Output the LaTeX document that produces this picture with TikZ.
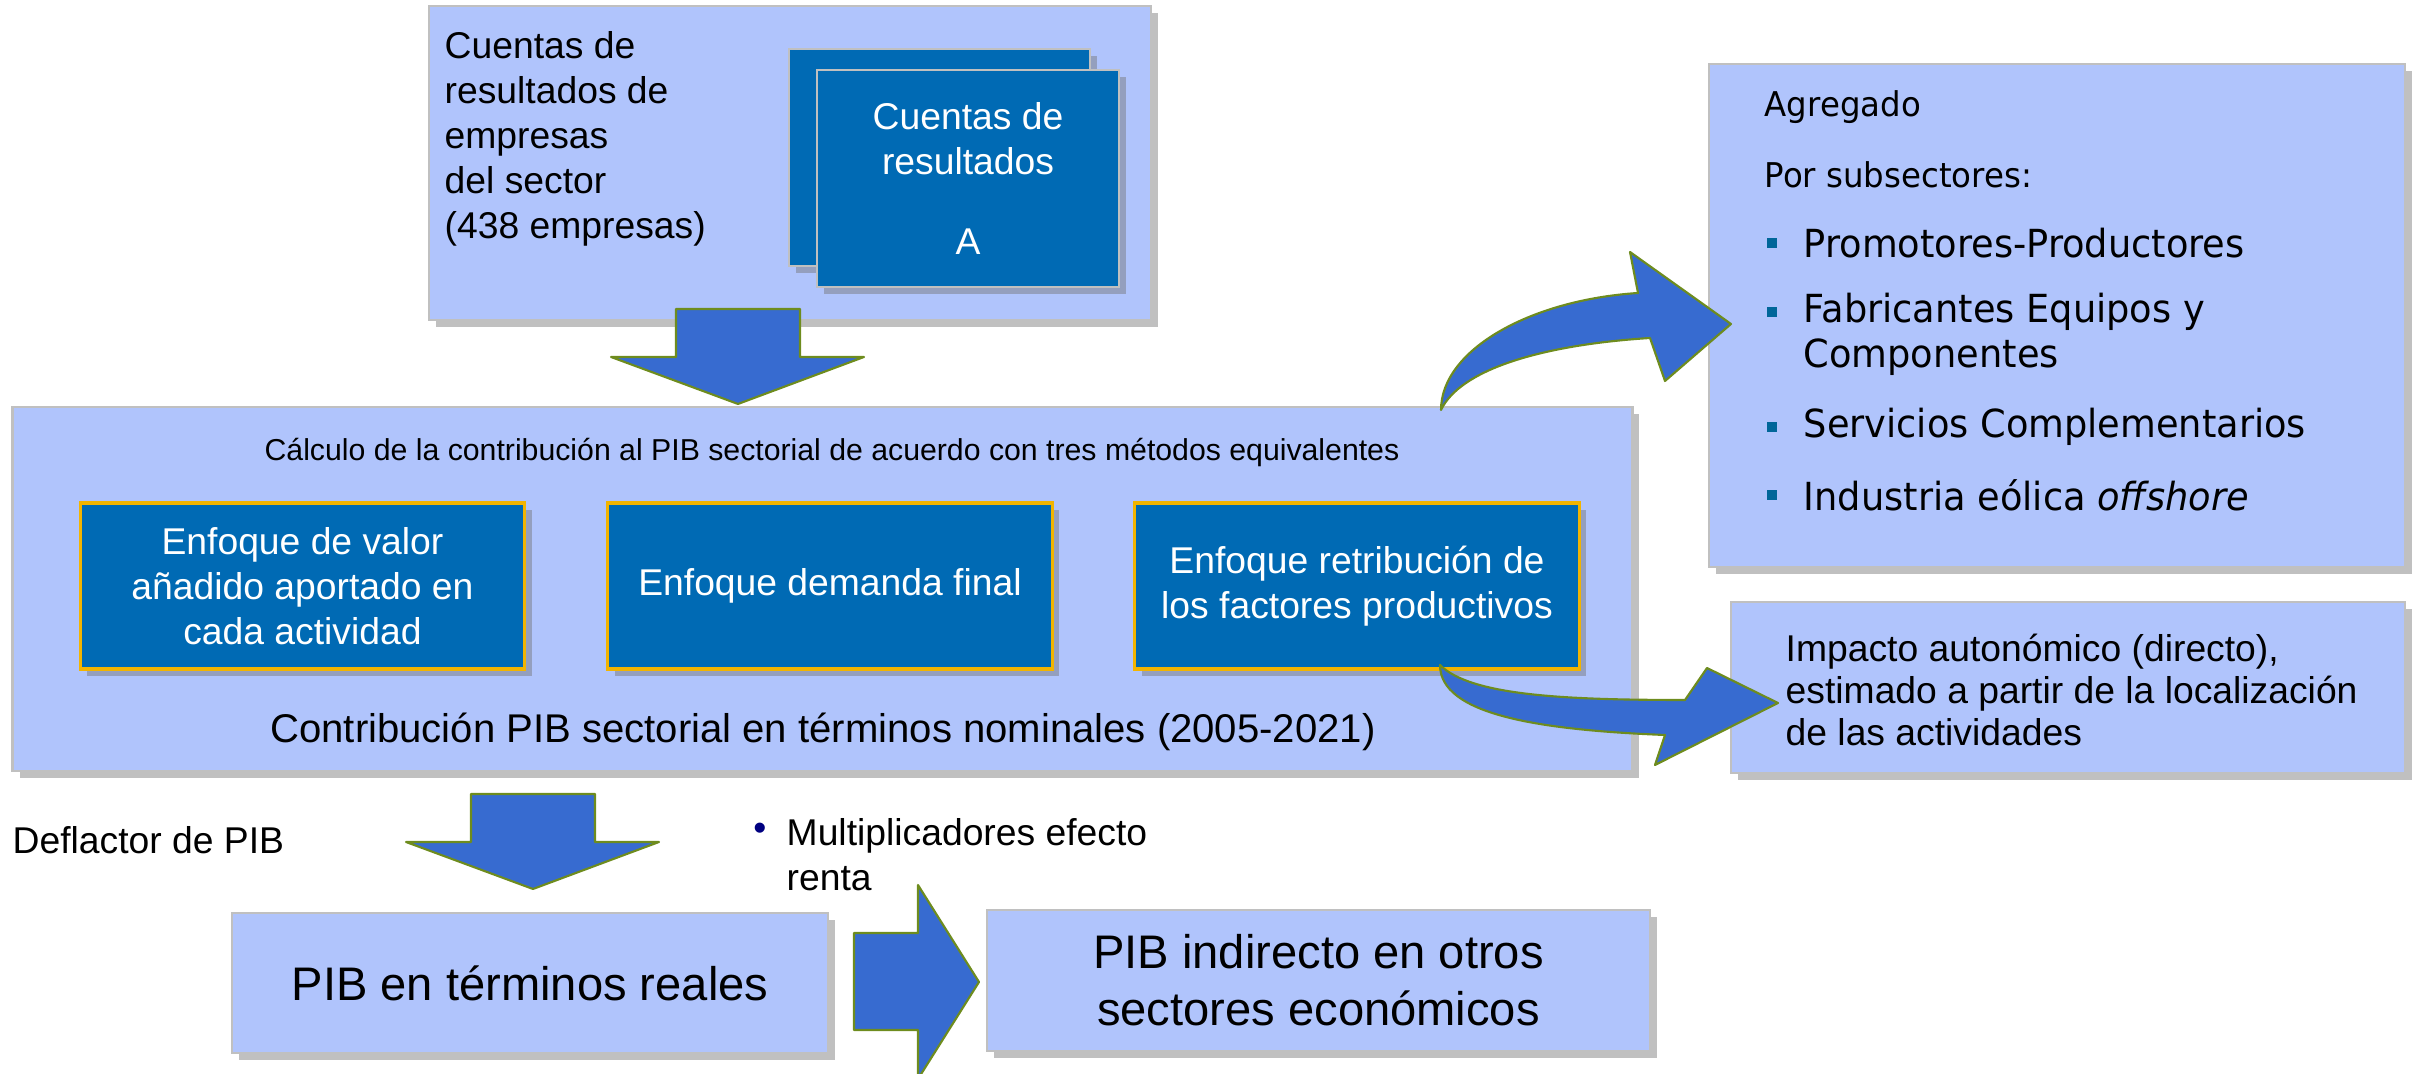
\documentclass[tikz,border=0pt]{standalone}
\usepackage{fontspec}
\setmainfont{Liberation Sans}
\newfontfamily\subfont{DejaVu Sans}[FakeStretch=0.95]
\usetikzlibrary{shadows}
\definecolor{lightbg}{RGB}{176,196,252}
\definecolor{darkbg}{RGB}{0,106,180}
\definecolor{boxgray}{RGB}{192,192,192}
\definecolor{goldline}{RGB}{242,180,0}
\definecolor{arrowblue}{RGB}{55,107,208}
\definecolor{arrowgreen}{RGB}{110,140,30}
\definecolor{bulletblue}{RGB}{0,102,153}
\definecolor{dotnavy}{RGB}{0,0,128}

\begin{document}
\begin{tikzpicture}[x=0.01cm, y=-0.01cm,
    boxshadow/.style={drop shadow={shadow xshift=0.07cm, shadow yshift=-0.07cm, opacity=0.45, fill=black!55}},
    light/.style={fill=lightbg, draw=boxgray, line width=0.6pt, inner sep=0pt, boxshadow},
    dark/.style={fill=darkbg, draw=boxgray, line width=0.6pt, inner sep=0pt, text=white, align=center, boxshadow},
    enfoque/.style={dark, draw=goldline, line width=0.9pt, minimum width=4.44cm, minimum height=1.66cm},
    fat/.style={fill=arrowblue, draw=arrowgreen, line width=0.6pt, line join=round},
    txt/.style={font=\fontsize{10.6}{12.8}\selectfont, inner sep=0pt},
    big/.style={font=\fontsize{13.4}{16.2}\selectfont, align=center},
    sub/.style={font=\subfont\fontsize{11}{12.8}\selectfont, inner sep=0pt, anchor=west, align=left},
    sq/.style={fill=bulletblue, minimum size=0.1cm, inner sep=0pt}]
         \useasboundingbox (0,0) rectangle (2414,1074);
         % cuentas de resultados
         \node[light, minimum width=7.22cm, minimum height=3.14cm] (CRE) at (790,163) {};
         \node[txt, anchor=west, align=left] (CRT) at (444,139) {Cuentas de\\resultados de\\empresas\\del sector\\(438 empresas)};
         \node[dark, minimum width=3.01cm, minimum height=2.17cm] (CRB) at (939.5,157.5) {};
         \node[dark, txt, minimum width=3.02cm, minimum height=2.17cm] (CRF) at (968,178.5) {Cuentas de\\resultados\\[10pt]A};
         \draw[fat] (676,309) -- (800,309) -- (800,357) -- (864,357) -- (738,404) -- (611,357) -- (676,357) -- cycle;
         % contribucion PIB
         \node[light, minimum width=16.19cm, minimum height=3.64cm] (CPIB) at (822.5,589) {};
         \node[inner sep=0pt, font=\fontsize{8.6}{10}\selectfont] (CALC) at (832,453) {Cálculo de la contribución al PIB sectorial de acuerdo con tres métodos equivalentes};
         \node[enfoque, txt] (E1) at (302.5,586) {Enfoque de valor\\añadido aportado en\\cada actividad};
         \node[enfoque, txt] (E2) at (830,586) {Enfoque demanda final};
         \node[enfoque, txt] (E3) at (1357,586) {Enfoque retribución de\\los factores productivos};
         \node[inner sep=0pt, font=\fontsize{11.4}{13}\selectfont] (NOM) at (823,732) {Contribución PIB sectorial en términos nominales (2005-2021)};
         % subsectores
         \node[light, minimum width=6.96cm, minimum height=5.03cm] (AGR) at (2057,315.5) {};
         \node[sub, font=\subfont\fontsize{9.7}{12}\selectfont] (AG) at (1764,107) {Agregado};
         \node[sub, font=\subfont\fontsize{9.7}{12}\selectfont] (PS) at (1764,175) {Por subsectores:};
         \node[sq] (B1) at (1772,243) {};
         \node[sub] (S1) at (1803,243) {Promotores-Productores};
         \node[sq] (B2) at (1772,312) {};
         \node[sub] (S2) at (1803,334.5) {Fabricantes Equipos y\\Componentes};
         \node[sq] (B3) at (1772,427) {};
         \node[sub] (S3) at (1803,427) {Servicios Complementarios};
         \node[sq] (B4) at (1772,495) {};
         \node[sub] (S4) at (1803,495) {Industria eólica \textit{offshore}};
         % impacto autonomico
         \node[light, minimum width=6.74cm, minimum height=1.71cm] (IMP) at (2068,687.5) {};
         \node[txt, anchor=west, align=left, font=\fontsize{10.6}{12}\selectfont] (IMT) at (1785,690) {Impacto autonómico (directo),\\estimado a partir de la localización\\de las actividades};
         \draw[fat] (1441,410) .. controls (1441,350) and (1530,300) .. (1638,293) -- (1630,252) -- (1731,324) -- (1665,381) -- (1650,338) .. controls (1540,345) and (1460,370) .. (1441,410) -- cycle;
         \draw[fat] (1440,665) .. controls (1470,695) and (1560,700) .. (1685,700) -- (1707,668) -- (1778,703) -- (1655,765) -- (1665,735) .. controls (1540,730) and (1440,715) .. (1440,665) -- cycle;
         % PIB real e indirecto
         \node[txt, anchor=west] (DEF) at (12,840) {Deflactor de PIB};
         \draw[fat] (471,794) -- (595,794) -- (595,842) -- (659,842) -- (533,889) -- (406,842) -- (471,842) -- cycle;
         \node[txt, text=dotnavy] (DOT) at (760,832) {•};
         \node[txt, anchor=west, align=left] (MUL) at (786,854.5) {Multiplicadores efecto\\renta};
         \node[light, big, minimum width=5.96cm, minimum height=1.40cm] (REAL) at (530,983) {PIB en términos reales};
         \draw[fat] (854,933) -- (918,933) -- (918,885) -- (979,982) -- (918,1079) -- (918,1030) -- (854,1030) -- cycle;
         \node[light, big, minimum width=6.63cm, minimum height=1.41cm] (IND) at (1318.5,980.5) {PIB indirecto en otros\\sectores económicos};
\end{tikzpicture}
\end{document}
